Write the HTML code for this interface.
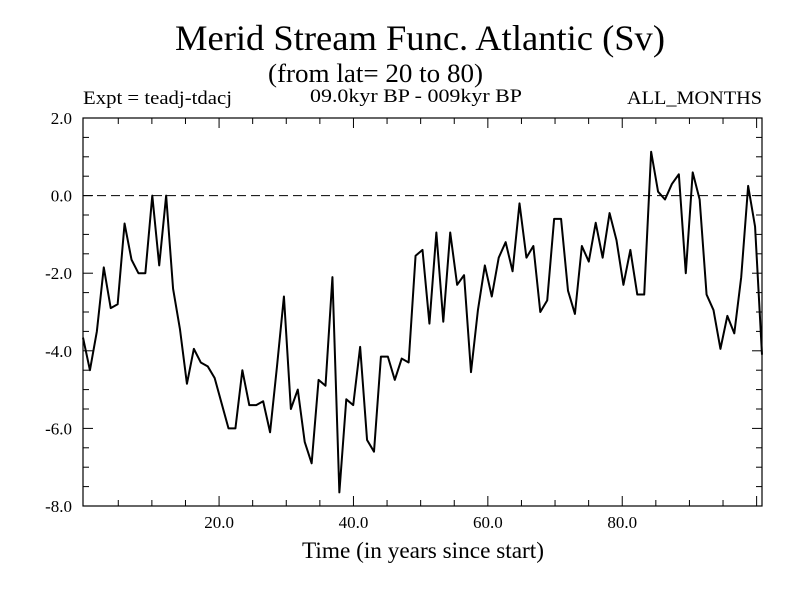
<!DOCTYPE html>
<html><head><meta charset="utf-8"><style>
body{margin:0;background:#fff}
svg text{font-family:"Liberation Serif",serif;fill:#000}
</style></head><body>
<svg width="800" height="600" id="c">
<text x="175" y="50" font-size="36" textLength="490" lengthAdjust="spacingAndGlyphs">Merid Stream Func. Atlantic (Sv)</text>
<text x="268" y="82" font-size="26" textLength="215" lengthAdjust="spacingAndGlyphs">(from lat= 20 to 80)</text>
<text x="83" y="104" font-size="19" textLength="149" lengthAdjust="spacingAndGlyphs">Expt = teadj-tdacj</text>
<text x="310" y="102" font-size="19" textLength="212" lengthAdjust="spacingAndGlyphs">09.0kyr BP - 009kyr BP</text>
<text x="627" y="104" font-size="19" textLength="135" lengthAdjust="spacingAndGlyphs">ALL_MONTHS</text>
<text x="302" y="558" font-size="23" textLength="242" lengthAdjust="spacingAndGlyphs">Time (in years since start)</text>
<rect x="83" y="118" width="679" height="388" fill="none" stroke="#000" stroke-width="1.2"/>
<g id="ax"></g>
</svg>
<script>
const values=[-3.66,-4.5,-3.5,-1.85,-2.9,-2.8,-0.72,-1.65,-2.0,-2.0,0.0,-1.8,0.0,-2.4,-3.45,-4.85,-3.95,-4.3,-4.4,-4.7,-5.35,-6.0,-6.0,-4.5,-5.4,-5.4,-5.3,-6.1,-4.4,-2.6,-5.5,-5.0,-6.35,-6.9,-4.75,-4.9,-2.1,-7.65,-5.25,-5.4,-3.9,-6.3,-6.6,-4.15,-4.15,-4.75,-4.2,-4.3,-1.55,-1.4,-3.3,-0.95,-3.25,-0.95,-2.3,-2.05,-4.55,-2.95,-1.8,-2.6,-1.6,-1.2,-1.95,-0.2,-1.6,-1.3,-3.0,-2.7,-0.6,-0.6,-2.45,-3.05,-1.3,-1.7,-0.7,-1.6,-0.45,-1.15,-2.3,-1.4,-2.55,-2.55,1.13,0.1,-0.1,0.3,0.55,-2.0,0.6,-0.1,-2.55,-2.95,-3.95,-3.1,-3.55,-2.1,0.25,-0.8,-4.1];
const yTicks=[2.0,0.0,-2.0,-4.0,-6.0,-8.0];
const yTickLabels=["2.0","0.0","-2.0","-4.0","-6.0","-8.0"];
const xTicks=[20,40,60,80];
const xTickLabels=["20.0","40.0","60.0","80.0"];
const X0=83,X1=762,Y0=118,Y1=506,xmin=-0.25,xmax=100.8,ymin=-8,ymax=2;
const sx=t=>X0+(t-xmin)/(xmax-xmin)*(X1-X0);
const sy=v=>Y1-(v-ymin)/(ymax-ymin)*(Y1-Y0);
const g=document.getElementById('ax');const NS='http://www.w3.org/2000/svg';
function mk(tag,at){const e=document.createElementNS(NS,tag);for(const k in at)e.setAttribute(k,at[k]);g.appendChild(e);return e;}
for(let v=ymin;v<=ymax+1e-9;v+=0.5){const y=sy(v);const major=Math.abs(v/2-Math.round(v/2))<1e-9;const L=major?10:6;
 let t=mk('line',{x1:X0,x2:X0+L,y1:y,y2:y,stroke:'#000'});
 
 
 t=mk('line',{x1:X1,x2:X1-L,y1:y,y2:y,stroke:'#000'});
 
 }
yTicks.forEach((v,i)=>{const t=mk('text',{x:72,y:sy(v)+6,'font-size':17,'text-anchor':'end'});t.textContent=yTickLabels[i];
 
 });
for(let v=5;v<=100;v+=5){const x=sx(v);const major=v%20===0;const L=major?10:6;
 let t=mk('line',{x1:x,x2:x,y1:Y1,y2:Y1-L,stroke:'#000'});
 
 
 t=mk('line',{x1:x,x2:x,y1:Y0,y2:Y0+L,stroke:'#000'});
 
 }
xTicks.forEach((v,i)=>{const t=mk('text',{x:sx(v),y:528,'font-size':17,'text-anchor':'middle'});t.textContent=xTickLabels[i];
 
 });
const z=mk('line',{x1:X0,x2:X1,y1:sy(0),y2:sy(0),stroke:'#000','stroke-dasharray':'9,5'});


const pts=values.map((v,i)=>sx(xmin+i*(xmax-xmin)/(values.length-1))+','+sy(v)).join(' ');
const p=mk('polyline',{points:pts,fill:'none',stroke:'#000','stroke-width':2,'stroke-linejoin':'round'});


</script>
</body></html>
